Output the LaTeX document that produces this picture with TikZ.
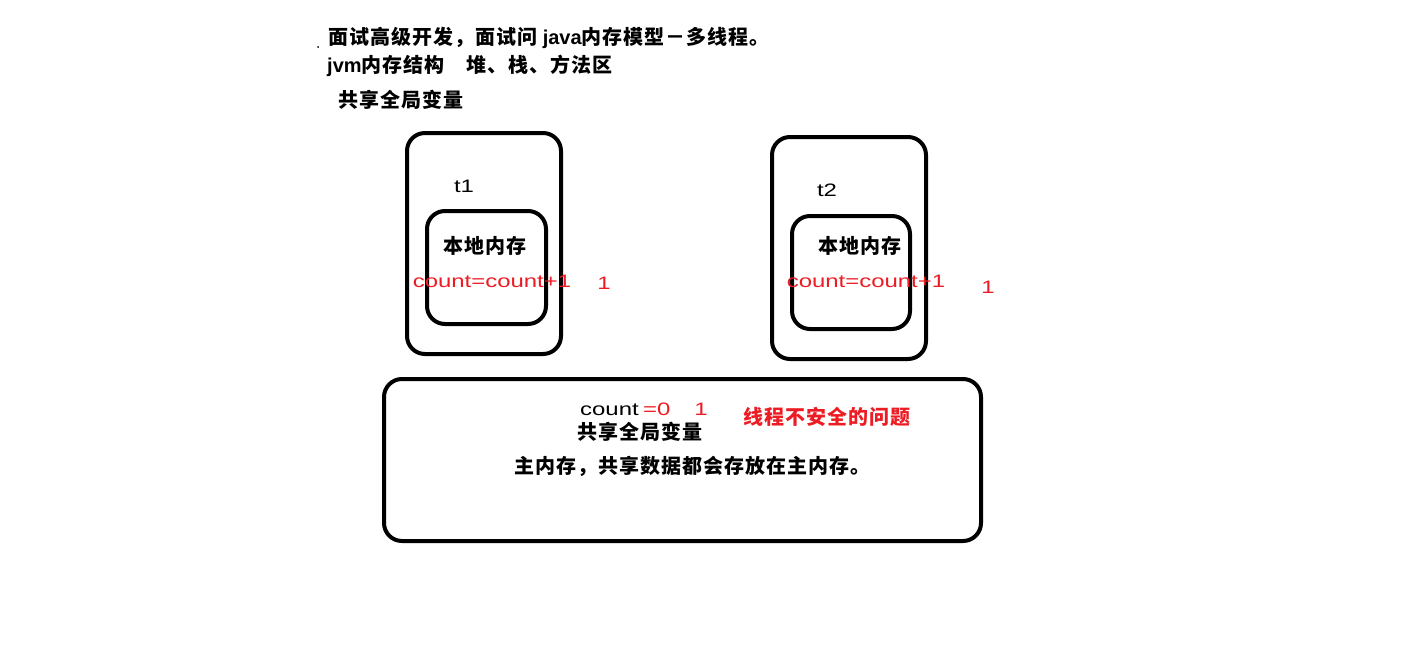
\documentclass[tikz,border=0pt]{standalone}
\usepackage{fontspec}
\setmainfont{Liberation Sans}
\newfontfamily\cjkfont{Noto Sans CJK SC}[LetterSpace=5]
\newfontfamily\countfont{Liberation Sans}[FakeStretch=1.33]
\usetikzlibrary{positioning, calc}
\definecolor{paintred}{RGB}{237,28,36}
\tikzset{membox/.style={draw, line width=4pt, rounded corners=18pt, inner sep=0pt, outer sep=0pt}}
\tikzset{hanzi/.style={inner sep=0pt, font=\cjkfont\bfseries\fontsize{20}{24}\selectfont}}
\tikzset{code/.style={inner sep=0pt, font=\countfont\fontsize{18}{22}\selectfont}}
\newcommand{\latin}[1]{{\fontspec{Liberation Sans}\fontsize{20}{24}\selectfont #1}}

\begin{document}
\begin{tikzpicture}[x=1pt, y=-1pt]
      \useasboundingbox (0,0) rectangle (1424,648);
      \fill (318,47) circle (1pt);

      \node[hanzi, anchor=west] (title) at (328,38) {面试高级开发，面试问 \latin{java}内存模型－多线程。};
      \node[hanzi, anchor=west] (jvm) at (327,66) {\latin{jvm}内存结构\hspace{22pt}堆、栈、方法区};
      \node[hanzi, anchor=west] (shared) at (338,100) {共享全局变量};

      % thread t1
      \node[membox, minimum width=154pt, minimum height=221pt] (t1) at (484,243.5) {};
      \node[code] (t1name) at (464,186) {t1};
      \node[membox, minimum width=119pt, minimum height=113pt] (t1local) at (486.5,267.5) {};
      \node[hanzi] (t1text) at (485,246) {本地内存};
      \node[code, text=paintred, anchor=base] (t1count) at (492,287) {count=count+1};
      \node[code, text=paintred, anchor=base] (t1val) at (604,289) {1};

      % thread t2
      \node[membox, minimum width=154pt, minimum height=222pt] (t2) at (849,248) {};
      \node[code] (t2name) at (827,190) {t2};
      \node[membox, minimum width=118pt, minimum height=113pt] (t2local) at (851,272.5) {};
      \node[hanzi] (t2text) at (860,246) {本地内存};
      \node[code, text=paintred, anchor=base] (t2count) at (866,287) {count=count+1};
      \node[code, text=paintred, anchor=base] (t2val) at (988,293) {1};

      % main memory
      \node[membox, minimum width=597pt, minimum height=162pt] (main) at (682.5,460) {};
      \node[code, anchor=base west] (mcount) at (580,415) {count};
      \node[code, text=paintred, anchor=base west] (mzero) at (643,415) {=0};
      \node[code, text=paintred, anchor=base] (mval) at (701,415) {1};
      \node[hanzi, text=paintred] (unsafe) at (827,417) {线程不安全的问题};
      \node[hanzi] (mshared) at (640,432) {共享全局变量};
      \node[hanzi] (mdesc) at (692,466) {主内存，共享数据都会存放在主内存。};

    \end{tikzpicture}
\end{document}
